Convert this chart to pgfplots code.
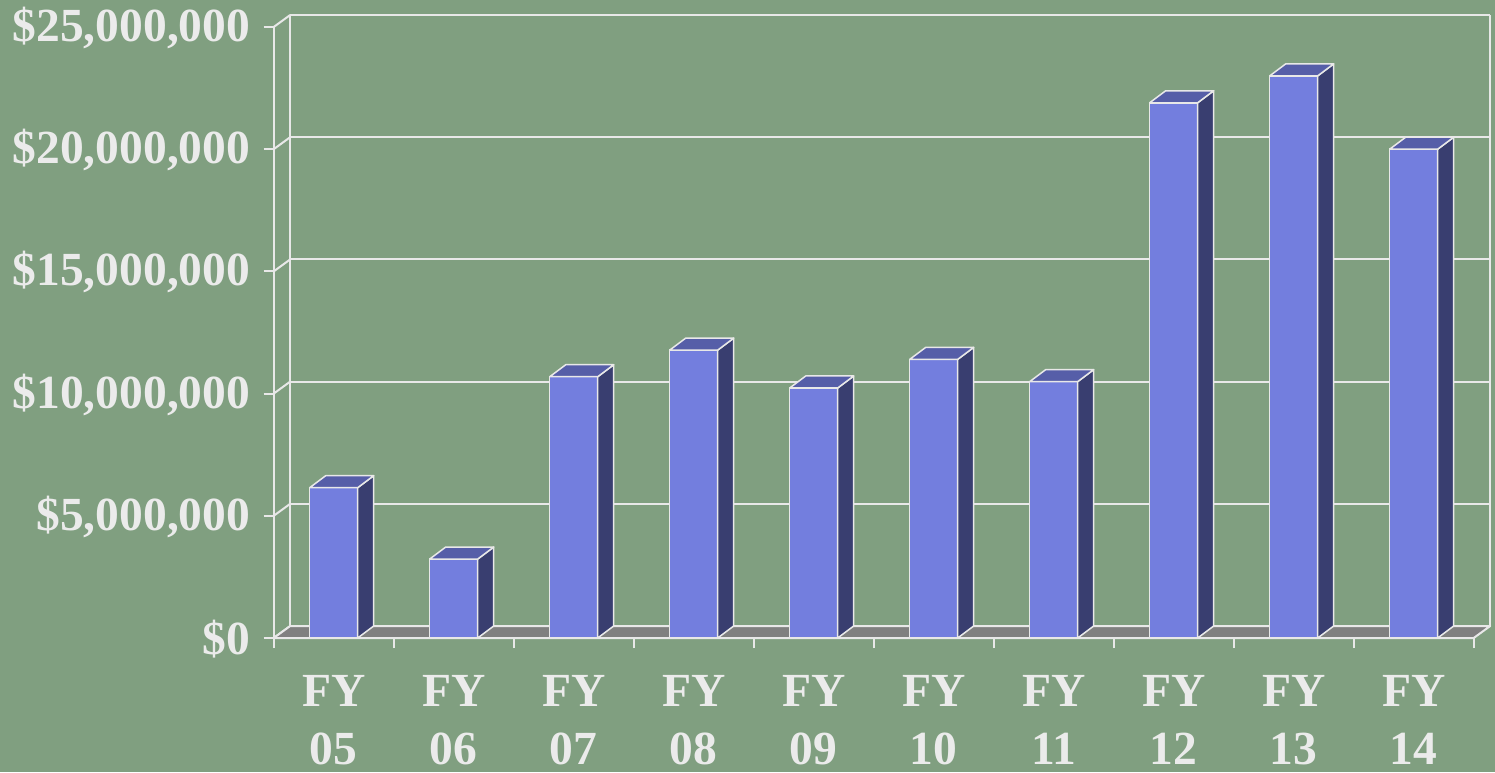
\documentclass[border=0pt]{standalone}
\usepackage{fontspec}
\setmainfont{Liberation Serif}
\usepackage{pgfplots}
\pgfplotsset{compat=1.18}
\usepackage{pgfplotstable}
\definecolor{bg}{RGB}{128,159,128}
\definecolor{frontc}{RGB}{115,126,222}
\definecolor{topc}{RGB}{86,94,168}
\definecolor{sidec}{RGB}{57,62,112}
\definecolor{floorc}{RGB}{128,128,128}
\definecolor{lc}{RGB}{232,232,232}
\definecolor{txt}{RGB}{235,235,235}
\pgfplotstableread{
x v
0.5 6.15
1.5 3.23
2.5 10.69
3.5 11.78
4.5 10.23
5.5 11.40
6.5 10.49
7.5 21.90
8.5 23.00
9.5 20.00
}\datatable
\pgfdeclareplotmark{nothing}{}
\begin{document}
\begin{tikzpicture}
\fill[bg] (-273.7pt,-134pt) rectangle (1221.3pt,638pt);
\begin{axis}[
  at={(0pt,0pt)}, anchor=south west,
  x=120pt, y=24.44pt, xmin=0, xmax=10, ymin=0, ymax=25,
  clip=false,
  axis x line*=bottom, axis y line*=left,
  axis line style={draw=lc, line width=2pt, -},
  xtick={0.5,1.5,...,9.5},
  xticklabels={FY\\05,FY\\06,FY\\07,FY\\08,FY\\09,FY\\10,FY\\11,FY\\12,FY\\13,FY\\14},
  minor xtick={0,1,...,10},
  ytick={0,5,...,25},
  yticklabels={\$0,{\$5,000,000},{\$10,000,000},{\$15,000,000},{\$20,000,000},{\$25,000,000}},
  tick align=outside,
  major tick length=10pt, minor tick length=10pt,
  tick style={draw=lc, line width=2pt},
  every major x tick/.append style={draw=none},
  ymajorgrids,
  major grid style={draw=lc, line width=2pt, xshift=16.5pt, yshift=12pt},
  ticklabel style={text=txt, font=\fontsize{47.5}{58}\selectfont\bfseries},
  xticklabel style={align=center, yshift=-24pt},
  yticklabel style={xshift=-10pt, yshift=-1pt},
]
% back wall verticals
\draw[lc, line width=2pt] ([shift={(16.5pt,12pt)}]axis cs:0,0) -- ([shift={(16.5pt,12pt)}]axis cs:0,25);
\draw[lc, line width=2pt] ([shift={(16.5pt,12pt)}]axis cs:10,0) -- ([shift={(16.5pt,12pt)}]axis cs:10,25);
% left side wall diagonals
\pgfplotsinvokeforeach{0,5,10,15,20,25}{
  \draw[lc, line width=2pt] (axis cs:0,#1) -- ([shift={(16.5pt,12pt)}]axis cs:0,#1);
}
% floor
\filldraw[fill=floorc, draw=lc, line width=2pt, line join=round] (axis cs:0,0) -- (axis cs:10,0) -- ([shift={(16.5pt,12pt)}]axis cs:10,0) -- ([shift={(16.5pt,12pt)}]axis cs:0,0) -- cycle;
% bars front
\addplot[ybar, bar width=48pt, fill=frontc, draw=lc, line width=1.5pt] table[x=x,y=v]{\datatable};
% bars top and side
\addplot[only marks, mark=nothing, scatter,
  visualization depends on={\thisrow{v} \as \val},
  scatter/@pre marker code/.code={%
    \pgfmathsetlengthmacro\hh{\val*24.44pt}%
    \filldraw[fill=sidec, draw=lc, line width=1.5pt, line join=round] (24pt,0pt) -- (40pt,12pt) -- ([yshift=-\hh]40pt,12pt) -- ([yshift=-\hh]24pt,0pt) -- cycle;
    \filldraw[fill=topc, draw=lc, line width=1.5pt, line join=round] (-24pt,0pt) -- (24pt,0pt) -- (40pt,12pt) -- (-8pt,12pt) -- cycle;
  },
  scatter/@post marker code/.code={}
] table[x=x,y=v]{\datatable};
\end{axis}
\pgfresetboundingbox
\path[use as bounding box] (-273.7pt,-134pt) rectangle (1221.3pt,638pt);
\end{tikzpicture}
\end{document}
